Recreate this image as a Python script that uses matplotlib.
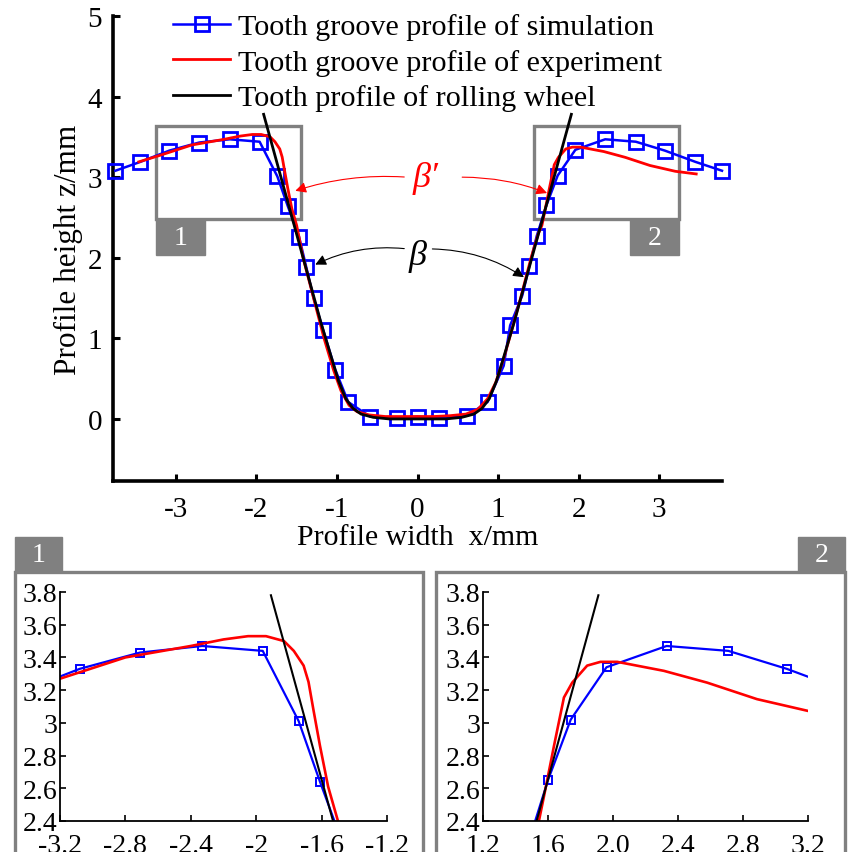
import matplotlib
matplotlib.use('Agg')
import matplotlib.pyplot as plt
import matplotlib.patches as patches
import numpy as np

plt.rcParams['font.family'] = ['Liberation Serif', 'DejaVu Serif']
plt.rcParams['axes.unicode_minus'] = False

# simulated tooth groove profile (blue squares)
sim_x = [-3.75, -3.44, -3.08, -2.71, -2.33, -1.96, -1.74, -1.61, -1.47, -1.38, -1.29,
         -1.17, -1.02, -0.86, -0.59, -0.26, 0.0, 0.27, 0.62, 0.87, 1.07, 1.15, 1.30,
         1.39, 1.48, 1.60, 1.74, 1.96, 2.33, 2.71, 3.07, 3.45, 3.78]
sim_z = [3.08, 3.19, 3.33, 3.43, 3.47, 3.44, 3.01, 2.64, 2.26, 1.88, 1.50,
         1.10, 0.61, 0.21, 0.03, 0.01, 0.03, 0.01, 0.04, 0.21, 0.66, 1.16, 1.53,
         1.90, 2.27, 2.65, 3.02, 3.34, 3.47, 3.44, 3.33, 3.19, 3.08]

# measured tooth groove profile (red)
exp_x = [-3.46, -3.2, -2.8, -2.4, -2.2, -2.05, -1.94, -1.83, -1.77, -1.71, -1.68, -1.65,
         -1.61, -1.56, -1.50, -1.42, -1.29, -1.16, -1.04, -0.95, -0.85, -0.75, -0.6,
         -0.4, -0.2, 0.0, 0.2, 0.4, 0.6, 0.75, 0.87, 0.97, 1.07, 1.17, 1.28, 1.41,
         1.50, 1.544, 1.575, 1.637, 1.698, 1.749, 1.841, 1.923, 2.026, 2.313, 2.579,
         2.886, 3.2, 3.46]
exp_z = [3.19, 3.27, 3.40, 3.47, 3.51, 3.53, 3.53, 3.50, 3.44, 3.35, 3.25, 3.08,
         2.86, 2.61, 2.40, 2.00, 1.50, 1.00, 0.60, 0.35, 0.17, 0.09, 0.05,
         0.03, 0.03, 0.03, 0.03, 0.04, 0.06, 0.12, 0.25, 0.45, 0.75, 1.10, 1.50, 2.00,
         2.30, 2.40, 2.55, 2.86, 3.155, 3.246, 3.35, 3.373, 3.373, 3.318, 3.246,
         3.145, 3.073, 3.04]

# rolling wheel tooth profile (black)
whl_x = [-1.91, -1.53, -1.20, -1.08, -0.98, -0.89, -0.80, -0.70, -0.55, -0.35, 0.0,
         0.35, 0.55, 0.70, 0.80, 0.89, 0.98, 1.08, 1.20, 1.53, 1.91]
whl_z = [3.78, 2.40, 1.20, 0.80, 0.47, 0.25, 0.13, 0.06, 0.02, 0.0, 0.0,
         0.0, 0.02, 0.06, 0.13, 0.25, 0.47, 0.80, 1.20, 2.40, 3.78]

main_xticks = [-3, -2, -1, 0, 1, 2, 3]
main_yticks = [0, 1, 2, 3, 4, 5]
in1_xticks = [-3.2, -2.8, -2.4, -2.0, -1.6, -1.2]
in1_xlabels = ['-3.2', '-2.8', '-2.4', '-2', '-1.6', '-1.2']
in2_xticks = [1.2, 1.6, 2.0, 2.4, 2.8, 3.2]
in2_xlabels = ['1.2', '1.6', '2.0', '2.4', '2.8', '3.2']
in_yticks = [2.4, 2.6, 2.8, 3.0, 3.2, 3.4, 3.6, 3.8]
in_ylabels = ['2.4', '2.6', '2.8', '3', '3.2', '3.4', '3.6', '3.8']

W, H = 848, 853
GREY = '#808080'


def fig_box(x0, y0, x1, y1):
    # pixel box (top-left origin) -> figure fraction [l, b, w, h]
    return [x0 / W, 1 - y1 / H, (x1 - x0) / W, (y1 - y0) / H]


fig = plt.figure(figsize=(W / 100, H / 100), dpi=100)

# ---------------- main plot ----------------
ax = fig.add_axes(fig_box(113, 17, 722, 482))
l_sim, = ax.plot(sim_x, sim_z, color='blue', lw=1.8, marker='s', ms=9.5, mfc='none',
                 mew=2.0, clip_on=False, zorder=3)
l_exp, = ax.plot(exp_x, exp_z, color='red', lw=2.0, zorder=4)
l_whl, = ax.plot(whl_x, whl_z, color='black', lw=2.0, zorder=5)
ax.set_xlim(-3.78, 3.78)
ax.set_ylim(-0.77, 5)
ax.set_xticks(main_xticks)
ax.set_xticklabels([str(t) for t in main_xticks])
ax.set_yticks(main_yticks)
for s in ['top', 'right']:
    ax.spines[s].set_visible(False)
for s in ['left', 'bottom']:
    ax.spines[s].set_linewidth(2.6)
ax.tick_params(direction='in', length=5, width=2.2, labelsize=21)
ax.tick_params(axis='x', pad=11)
ax.tick_params(axis='y', pad=8)
ax.set_xlabel('Profile width  x/mm', fontsize=21.5, labelpad=1)
ax.set_ylabel('Profile height z/mm', fontsize=22.5, labelpad=3)

ax.legend([l_sim, l_exp, l_whl],
          ['Tooth groove profile of simulation', 'Tooth groove profile of experiment',
           'Tooth profile of rolling wheel'],
          loc='upper left', bbox_to_anchor=(173 / W, 1 - 14 / H), bbox_transform=fig.transFigure,
          frameon=False, fontsize=21.7, handlelength=1.9, handletextpad=0.25,
          borderaxespad=0, borderpad=0, labelspacing=0.28)

# zoom boxes
for x0, tx0, lab in [(-3.24, -3.24, '1'), (1.45, 2.64, '2')]:
    ax.add_patch(patches.Rectangle((x0, 2.48), 1.79, 1.15, fill=False, ec=GREY, lw=2.4,
                                   zorder=2))
    ax.add_patch(patches.Rectangle((tx0, 2.04), 0.60, 0.44, fc=GREY, ec=GREY, lw=1,
                                   zorder=2))
    ax.text(tx0 + 0.30, 2.25, lab, color='white', fontsize=20, ha='center', va='center',
            zorder=3)

# angle annotations
ax.text(0.10, 3.0, 'β′', color='red', fontsize=26, style='italic', ha='center',
        va='center')
ax.annotate('', xy=(-1.55, 2.82), xytext=(-0.13, 3.0),
            arrowprops=dict(arrowstyle='-|>', color='red', lw=0.8, mutation_scale=16,
                            connectionstyle='arc3,rad=0.1'))
ax.annotate('', xy=(1.64, 2.79), xytext=(0.52, 3.0),
            arrowprops=dict(arrowstyle='-|>', color='red', lw=0.8, mutation_scale=16,
                            connectionstyle='arc3,rad=-0.1'))
ax.text(0.0, 2.03, 'β', color='black', fontsize=26, style='italic', ha='center',
        va='center')
ax.annotate('', xy=(-1.30, 1.90), xytext=(-0.13, 2.11),
            arrowprops=dict(arrowstyle='-|>', color='black', lw=0.8, mutation_scale=16,
                            connectionstyle='arc3,rad=0.15'))
ax.annotate('', xy=(1.35, 1.74), xytext=(0.15, 2.11),
            arrowprops=dict(arrowstyle='-|>', color='black', lw=0.8, mutation_scale=16,
                            connectionstyle='arc3,rad=-0.15'))

# ---------------- zoomed panels ----------------
for fx0, fx1, tab0, tab1, lab in [(15, 423, 15, 62, '1'), (436, 845, 798, 845, '2')]:
    fig.patches.append(patches.Rectangle((fx0 / W, -0.05), (fx1 - fx0) / W,
                                         1.05 - 573 / H, fill=False, ec=GREY, lw=2.4,
                                         transform=fig.transFigure, figure=fig))
    fig.patches.append(patches.Rectangle((tab0 / W, 1 - 573 / H), (tab1 - tab0) / W,
                                         35 / H, fc=GREY, ec=GREY, lw=1,
                                         transform=fig.transFigure, figure=fig))
    fig.text((tab0 + tab1) / 2 / W, 1 - 556 / H, lab, color='white', fontsize=20,
             ha='center', va='center')

for box, xlim, xt, xl in [((60, 593, 387, 822), (-3.2, -1.2), in1_xticks, in1_xlabels),
                          ((483, 593, 808, 822), (1.2, 3.2), in2_xticks, in2_xlabels)]:
    a = fig.add_axes(fig_box(*box))
    a.plot(sim_x, sim_z, color='blue', lw=1.6, marker='s', ms=5.5, mfc='none', mew=1.4)
    a.plot(exp_x, exp_z, color='red', lw=1.9)
    a.plot(whl_x, whl_z, color='black', lw=1.5)
    a.set_xlim(*xlim)
    a.set_ylim(2.4, 3.8)
    a.set_xticks(xt)
    a.set_xticklabels(xl)
    a.set_yticks(in_yticks)
    a.set_yticklabels(in_ylabels)
    for s in ['top', 'right']:
        a.spines[s].set_visible(False)
    for s in ['left', 'bottom']:
        a.spines[s].set_linewidth(1.3)
    a.tick_params(direction='in', length=4, width=1.2, labelsize=20)
    a.tick_params(axis='x', pad=8.5)
    a.tick_params(axis='y', pad=2)

fig.savefig('out.png', dpi=100)
